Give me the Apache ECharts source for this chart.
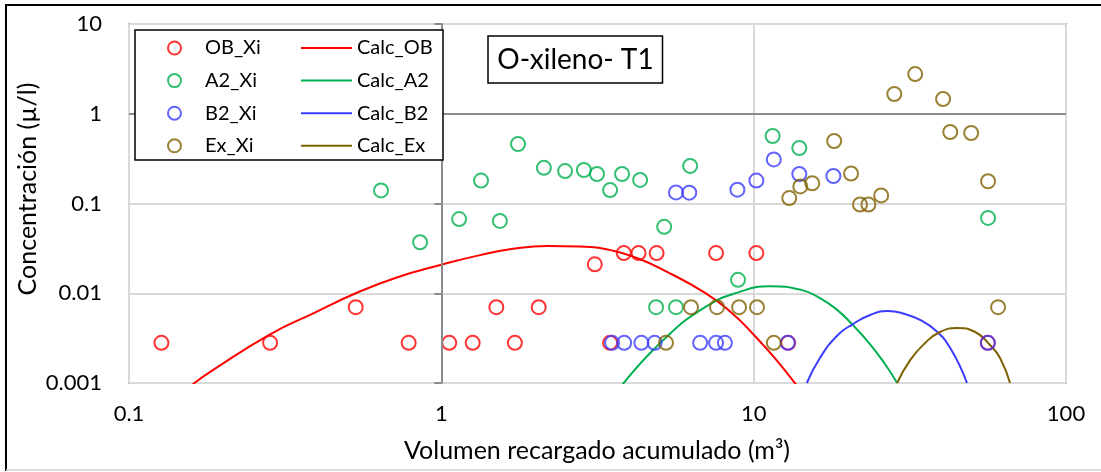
<!DOCTYPE html>
<html><head><meta charset="utf-8">
<script src="https://cdn.jsdelivr.net/npm/echarts@6/dist/echarts.min.js"></script>
<style>html,body{margin:0;padding:0;background:#fff}#c{width:1101px;height:472px}</style>
</head><body><div id="c"></div>
<script>
// ---- data ----
const obX = [0.127, 0.283, 0.532, 0.786, 1.06, 1.26, 1.50, 1.72, 2.05, 3.10, 3.47, 3.84, 4.28, 4.89, 7.58, 10.2, 12.9, 56.2];
const obY = [0.0028, 0.0028, 0.007, 0.0028, 0.0028, 0.0028, 0.007, 0.0028, 0.007, 0.021, 0.0028, 0.028, 0.028, 0.028, 0.028, 0.028, 0.0028, 0.0028];

const a2X = [0.641, 0.855, 1.14, 1.34, 1.54, 1.76, 2.13, 2.49, 2.86, 3.15, 3.47, 3.79, 4.33, 4.87, 5.17, 5.64, 6.26, 8.91, 11.5, 14.0, 56.3];
const a2Y = [0.14, 0.037, 0.067, 0.18, 0.064, 0.46, 0.25, 0.23, 0.236, 0.213, 0.141, 0.213, 0.183, 0.007, 0.055, 0.007, 0.262, 0.0141, 0.565, 0.415, 0.069];

const b2X = [3.52, 3.85, 4.37, 4.82, 5.64, 6.22, 6.74, 7.58, 8.09, 8.87, 10.2, 11.6, 12.85, 14.0, 18.0, 56.2];
const b2Y = [0.0028, 0.0028, 0.0028, 0.0028, 0.133, 0.132, 0.0028, 0.0028, 0.0028, 0.1425, 0.18, 0.31, 0.0028, 0.213, 0.2025, 0.0028];

const exX = [5.24, 6.30, 7.63, 8.98, 10.25, 11.6, 13.0, 14.1, 15.4, 18.1, 20.5, 21.9, 23.3, 25.6, 28.2, 32.9, 40.4, 42.6, 49.7, 56.3, 60.6];
const exY = [0.0028, 0.007, 0.007, 0.007, 0.007, 0.0028, 0.115, 0.155, 0.168, 0.497, 0.216, 0.0975, 0.0975, 0.123, 1.66, 2.77, 1.46, 0.626, 0.61, 0.177, 0.007];

const calcObX = [0.160, 0.186, 0.283, 0.389, 0.532, 0.72, 1.0, 1.33, 1.70, 2.18, 2.78, 3.55, 4.33, 5.13, 6.99, 8.53, 9.95, 11.6, 13.7];
const calcObY = [0.00097, 0.0014, 0.00349, 0.00598, 0.00999, 0.0150, 0.0208, 0.0266, 0.0313, 0.0337, 0.0332, 0.0298, 0.0239, 0.0182, 0.0101, 0.0060, 0.00352, 0.00195, 0.00095];

const calcA2X = [3.79, 5.13, 6.99, 8.98, 11.3, 14.2, 16.3, 18.35, 20.8, 23.6, 26.2, 28.8];
const calcA2Y = [0.00095, 0.0030, 0.0070, 0.0103, 0.0120, 0.0109, 0.00885, 0.0067, 0.0044, 0.0027, 0.00167, 0.001];

const calcB2X = [14.8, 16.3, 18.6, 20.8, 23.6, 26.9, 30.5, 34.1, 38.1, 42.6, 48.2];
const calcB2Y = [0.001, 0.0019, 0.00343, 0.00454, 0.00573, 0.00634, 0.00587, 0.00504, 0.0039, 0.00245, 0.001];

const calcExX = [28.8, 31.7, 35.4, 39.5, 44.8, 51.2, 57.1, 61.5, 66.2];
const calcExY = [0.001, 0.0018, 0.00279, 0.0037, 0.0041, 0.0037, 0.00265, 0.0019, 0.001];

const scatterNames = ['OB_Xi', 'A2_Xi', 'B2_Xi', 'Ex_Xi'];
const lineNames = ['Calc_OB', 'Calc_A2', 'Calc_B2', 'Calc_Ex'];
const chartTitle = 'O-xileno- T1';
const xTitle = 'Volumen recargado acumulado (m³)';
const yTitle = 'Concentración (µ/l)';

// ---- build ----
const FONT = 'Lato';
const COL = ['#ff0000', '#00b050', '#3c3cff', '#7f6000'];
const pts = (xs, ys) => xs.map((x, i) => [x, ys[i]]);

function scatter(name, xs, ys, color, extra) {
  return Object.assign({
    name, type: 'scatter', data: pts(xs, ys), symbol: 'circle', symbolSize: 14,
    itemStyle: { color: 'rgba(255,255,255,0)', borderColor: color, borderWidth: 2 },
    emphasis: { disabled: true }, z: 2
  }, extra || {});
}
function line(name, xs, ys, color) {
  return {
    name, type: 'line', data: pts(xs, ys), symbol: 'none', showSymbol: false, smooth: 0.5,
    lineStyle: { color, width: 2 }, itemStyle: { color }, emphasis: { disabled: true }, z: 2
  };
}

const chart = echarts.init(document.getElementById('c'), null, { renderer: 'canvas' });

const legendCommon = {
  orient: 'vertical', top: 38, padding: 0, itemGap: 12.6,
  textStyle: { fontFamily: FONT, fontSize: 20, color: '#000', lineHeight: 20 },
  selectedMode: false, z: 60
};

const option = {
  animation: false,
  textStyle: { fontFamily: FONT },
  grid: { left: 129, right: 35, top: 24, bottom: 89, show: true, borderColor: '#b0b0b0', borderWidth: 2, backgroundColor: 'transparent' },
  xAxis: [{
    type: 'log', logBase: 10, min: 0.1, max: 100,
    axisLine: { show: false }, axisTick: { show: false },
    axisLabel: { fontFamily: FONT, fontSize: 22, color: '#000', margin: 20 },
    splitLine: { show: true, lineStyle: { color: '#d9d9d9', width: 2 } }
  }],
  yAxis: [{
    type: 'log', logBase: 10, min: 0.001, max: 10,
    axisLine: { show: false }, axisTick: { show: false },
    axisLabel: { fontFamily: FONT, fontSize: 22, color: '#000', margin: 27 },
    splitLine: { show: true, lineStyle: { color: '#d9d9d9', width: 2 } }
  }, {
    type: 'log', logBase: 10, min: 0.001, max: 10, position: 'left', offset: 0,
    axisLine: { show: true, lineStyle: { color: '#8c8c8c', width: 2 } },
    axisTick: { show: true, inside: false, length: 7, lineStyle: { color: '#8c8c8c', width: 2 } },
    axisLabel: { show: false }, splitLine: { show: false }, z: 3
  }],
  legend: [
    Object.assign({ left: 167, itemWidth: 51, itemHeight: 13, data: scatterNames }, legendCommon),
    Object.assign({ left: 301, itemWidth: 51, itemHeight: 2, icon: 'rect', data: lineNames }, legendCommon)
  ],
  graphic: [
    { type: 'polyline', shape: { points: [[1101, 5], [6, 5], [6, 471]] }, style: { stroke: '#000', lineWidth: 2, fill: null }, z: 50, silent: true },
    { type: 'line', shape: { x1: 6, y1: 470, x2: 1101, y2: 470 }, style: { stroke: '#d0d0d0', lineWidth: 1.5 }, z: 50, silent: true },
    { type: 'rect', shape: { x: 135, y: 30, width: 308, height: 130 }, style: { fill: '#fff', stroke: '#000', lineWidth: 1.5 }, z: 50, silent: true },
    { type: 'rect', shape: { x: 488, y: 36, width: 174.5, height: 47 }, style: { fill: '#fff', stroke: '#000', lineWidth: 1.5 }, z: 50, silent: true },
    { type: 'text', x: 575.5, y: 60, style: { text: chartTitle, fontFamily: FONT, fontSize: 28, fill: '#000', textAlign: 'center', textVerticalAlign: 'middle' }, z: 51, silent: true },
    { type: 'text', x: 597, y: 451, style: { text: xTitle, fontFamily: FONT, fontSize: 25, fill: '#000', textAlign: 'center', textVerticalAlign: 'middle' }, z: 51, silent: true },
    { type: 'text', x: 28, y: 189, rotation: Math.PI / 2, style: { text: yTitle, fontFamily: FONT, fontSize: 25, fill: '#000', textAlign: 'center', textVerticalAlign: 'middle' }, z: 51, silent: true }
  ],
  series: [
    scatter(scatterNames[0], obX, obY, COL[0], {
      markLine: { silent: true, symbol: 'none', label: { show: false }, lineStyle: { color: '#8c8c8c', width: 2, type: 'solid' }, data: [{ yAxis: 1 }] }
    }),
    line(lineNames[0], calcObX, calcObY, COL[0]),
    scatter(scatterNames[1], a2X, a2Y, COL[1]),
    line(lineNames[1], calcA2X, calcA2Y, COL[1]),
    scatter(scatterNames[2], b2X, b2Y, COL[2]),
    line(lineNames[2], calcB2X, calcB2Y, COL[2]),
    scatter(scatterNames[3], exX, exY, COL[3]),
    line(lineNames[3], calcExX, calcExY, COL[3])
  ]
};
chart.setOption(option);
// place the crossing vertical axis at x = 1 via the library's own scale
const leftPx = chart.convertToPixel({ xAxisIndex: 0 }, 0.1);
const onePx = chart.convertToPixel({ xAxisIndex: 0 }, 1);
chart.setOption({ yAxis: [{}, { offset: leftPx - onePx }] });
</script>
</body></html>
